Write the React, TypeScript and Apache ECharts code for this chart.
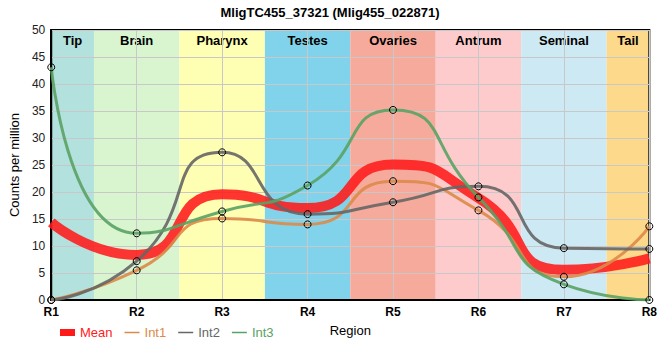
import React, { useEffect, useRef } from "react";
import * as echarts from "echarts";

const categories = ["R1", "R2", "R3", "R4", "R5", "R6", "R7", "R8"];
const int1 = [0, 5.5, 15.1, 14.0, 22.0, 16.6, 4.3, 13.65];
const int2 = [0, 7.2, 27.35, 15.9, 18.1, 21.05, 9.6, 9.45];
const int3 = [43.1, 12.35, 16.4, 21.2, 35.2, 19.0, 2.9, 0];
const mean = [14.37, 8.35, 19.6, 17.03, 25.1, 18.9, 5.6, 7.7];
const regions = ["Tip", "Brain", "Pharynx", "Testes", "Ovaries", "Antrum", "Seminal", "Tail"];
const regionStart = [1, 1.5, 2.5, 3.5, 4.5, 5.5, 6.5, 7.5];
const regionEnd = [1.5, 2.5, 3.5, 4.5, 5.5, 6.5, 7.5, 8];
const regionColors = ["#b3e1dd", "#d8f5d0", "#ffffb3", "#80d3ea", "#f5aa9c", "#fdcbcb", "#cdeaf4", "#fdd98b"];
const seriesNames = ["Mean", "Int1", "Int2", "Int3"];
const seriesColors = ["#ff1a1a", "#dd8a48", "#666666", "#5aa264"];

export default function App() {
  const ref = useRef<HTMLDivElement>(null);
  useEffect(() => {
    if (!ref.current) return;
    const chart = echarts.init(ref.current, undefined, { renderer: "svg" });
    const pairs = (arr: number[]) => arr.map((v, i) => [i + 1, v]);
    const SMOOTH = 0.6;
    const lineSeries = (name: string, data: number[], color: string, idx: number) => ({
      name,
      type: "line",
      data: pairs(data),
      smooth: SMOOTH,
      z: 3 + idx,
      symbol: "circle",
      symbolSize: 7,
      showSymbol: true,
      lineStyle: { color, width: 3, opacity: 0.9 },
      itemStyle: { color: "rgba(0,0,0,0)", borderColor: "#000", borderWidth: 1 },
    });
    chart.setOption({
      animation: false,
      title: {
        text: "MligTC455_37321 (Mlig455_022871)",
        left: "center",
        top: 1,
        textStyle: { fontSize: 13, fontWeight: "bold", color: "#000", fontFamily: "Liberation Sans" },
      },
      grid: { left: 50, right: 10, top: 30, bottom: 60, show: true, borderColor: "#000", borderWidth: 2, z: 1, backgroundColor: "transparent" },
      legend: {
        left: 55,
        top: 321,
        itemGap: 12,
        itemWidth: 15,
        itemHeight: 7,
        textStyle: { fontSize: 13, fontFamily: "Liberation Sans" },
        data: seriesNames.map((n, i) => ({
          name: n,
          icon: i === 0 ? "rect" : "path://M0,3L20,3L20,5L0,5Z",
          itemStyle: { color: seriesColors[i], borderWidth: 0 },
          textStyle: { color: seriesColors[i], fontSize: 13 },
        })),
      },
      xAxis: {
        type: "value",
        min: 1,
        max: 8,
        interval: 1,
        z: 1,
        name: "Region",
        nameLocation: "middle",
        nameGap: 24,
        nameTextStyle: { color: "#000", fontSize: 13, fontFamily: "Liberation Sans" },
        axisLine: { lineStyle: { color: "#000", width: 2 } },
        axisTick: { show: false },
        axisLabel: {
          formatter: (v: number) => categories[v - 1] ?? "",
          color: "#000",
          fontWeight: "bold",
          fontSize: 12,
          fontFamily: "Liberation Sans",
          margin: 6,
        },
        splitLine: { show: true, lineStyle: { color: "#c8c8c8" } },
      },
      yAxis: {
        type: "value",
        min: 0,
        max: 50,
        interval: 5,
        z: 1,
        name: "Counts per million",
        nameLocation: "middle",
        nameGap: 23,
        nameTextStyle: { color: "#000", fontSize: 13, fontFamily: "Liberation Sans" },
        axisLine: { show: true, lineStyle: { color: "#000", width: 2 } },
        axisTick: { show: false },
        axisLabel: { color: "#222", fontSize: 12, fontFamily: "Liberation Sans", margin: 6 },
        splitLine: { show: true, lineStyle: { color: "#c8c8c8" } },
      },
      series: [
        {
          name: "bands",
          type: "line",
          data: [],
          z: 0,
          silent: true,
          markArea: {
            silent: true,
            z: 0,
            label: { show: true, position: "insideTop", color: "#000", fontWeight: "bold", fontSize: 13, fontFamily: "Liberation Sans", distance: 4 },
            data: regions.map((r, i) => [
              { name: r, xAxis: regionStart[i], itemStyle: { color: regionColors[i] } },
              { xAxis: regionEnd[i] },
            ]),
          },
        },
        {
          name: "Mean",
          type: "line",
          data: pairs(mean),
          smooth: SMOOTH,
          z: 2,
          showSymbol: false,
          symbol: "none",
          lineStyle: { color: seriesColors[0], width: 10, opacity: 0.88 },
          itemStyle: { color: seriesColors[0] },
        },
        lineSeries("Int1", int1, seriesColors[1], 1),
        lineSeries("Int2", int2, seriesColors[2], 2),
        lineSeries("Int3", int3, seriesColors[3], 3),
      ],
    });
    return () => chart.dispose();
  }, []);
  return <div ref={ref} style={{ width: 660, height: 360, position: "absolute", left: 0, top: 0 }} />;
}
